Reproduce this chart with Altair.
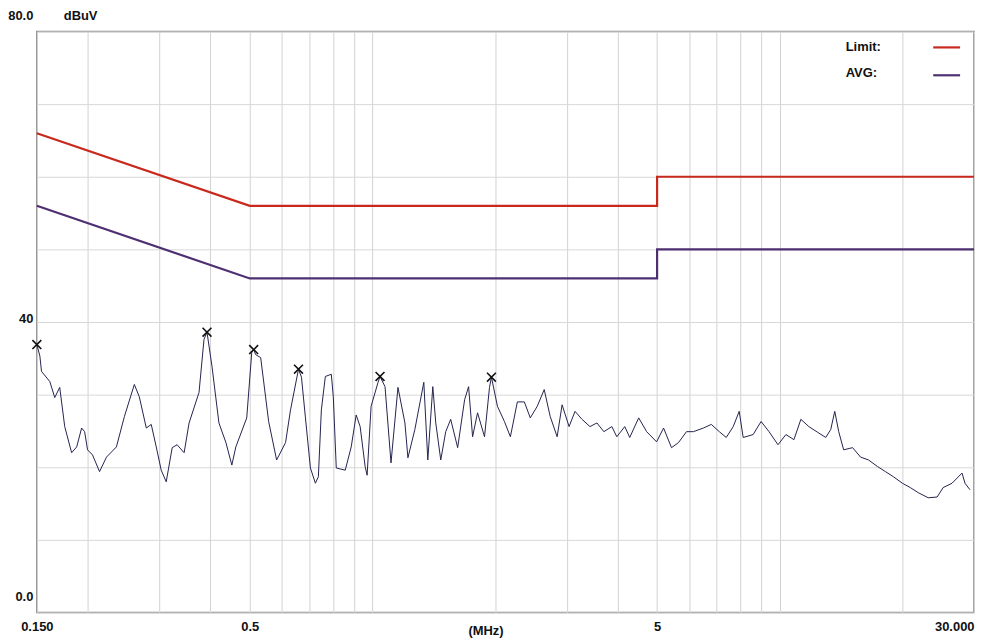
import altair as alt
import pandas as pd

# ---------------- data ----------------
trace_freq = [0.150, 0.1526, 0.1540, 0.1614, 0.1660, 0.1707, 0.1756, 0.1826, 0.1879, 0.1932,
              0.1965, 0.1998, 0.2055, 0.2138, 0.2224, 0.2287, 0.2352, 0.2461, 0.2603, 0.2677,
              0.2785, 0.2864, 0.2946, 0.3030, 0.3117, 0.3224, 0.3315, 0.3449, 0.3547, 0.3752,
              0.3859, 0.3925, 0.4037, 0.4199, 0.4368, 0.4517, 0.4620, 0.4914, 0.5055, 0.511,
              0.5169, 0.5317, 0.5562, 0.5818, 0.6120, 0.6294, 0.6584, 0.6696, 0.6848, 0.7043,
              0.7244, 0.7367, 0.7493, 0.7663, 0.7926, 0.8016, 0.8152, 0.8576, 0.8870, 0.9123,
              0.9330, 0.9597, 0.9705, 0.9926, 1.0324, 1.044, 1.0739, 1.1108, 1.1554, 1.2018,
              1.2223, 1.2713, 1.3373, 1.3677, 1.4068, 1.4307, 1.4716, 1.5136, 1.5567, 1.6193,
              1.6842, 1.7226, 1.7618, 1.8120, 1.8848, 1.9385, 1.960, 2.0277, 2.1092, 2.1816,
              2.2692, 2.3603, 2.4413, 2.5394, 2.6412, 2.7318, 2.8415, 2.9225, 3.0398, 3.1442,
              3.2705, 3.4209, 3.5583, 3.7008, 3.8712, 3.9816, 4.1649, 4.2837, 4.5062, 4.7135,
              4.9863, 5.1866, 5.4252, 5.6439, 5.9037, 6.1406, 6.4955, 6.7946, 7.1072, 7.3926,
              7.6896, 7.9536, 8.1347, 8.6051, 9.0011, 9.4154, 9.9044, 10.360, 10.837, 11.272,
              11.791, 12.403, 12.974, 13.345, 13.650, 13.961, 14.357, 15.101, 15.797, 16.524,
              17.382, 18.182, 19.018, 20.006, 20.926, 21.889, 23.154, 24.356, 25.191, 26.499,
              28.032, 28.509, 29.322]
trace_level = [36.9, 35.3, 33.2, 31.8, 29.6, 31.0, 25.6, 22.0, 22.8, 25.4,
               24.9, 22.4, 21.7, 19.4, 21.4, 22.1, 22.8, 27.0, 31.4, 29.7,
               25.4, 25.9, 22.8, 19.6, 18.0, 22.7, 23.1, 22.0, 26.1, 30.3,
               37.6, 38.6, 33.9, 26.1, 23.4, 20.3, 22.8, 26.8, 35.8, 36.2,
               35.5, 35.1, 26.3, 21.0, 23.4, 27.9, 33.5, 32.4, 26.8, 19.9,
               17.8, 18.7, 27.9, 32.5, 32.8, 29.7, 19.9, 19.6, 22.8, 27.2,
               25.6, 20.1, 18.9, 28.4, 31.7, 32.5, 31.1, 20.6, 31.0, 26.1,
               21.3, 25.2, 31.7, 21.0, 31.1, 26.1, 21.0, 24.9, 26.6, 22.7,
               29.3, 31.1, 24.2, 27.5, 24.2, 31.0, 32.4, 28.4, 26.3, 24.2,
               29.0, 29.0, 26.8, 28.4, 30.7, 27.0, 24.2, 28.6, 25.6, 27.7,
               26.6, 25.6, 26.1, 24.9, 25.6, 24.2, 25.6, 24.1, 26.8, 24.9,
               23.5, 25.4, 22.7, 23.4, 24.9, 24.9, 25.4, 25.9, 24.9, 24.1,
               25.6, 27.7, 24.1, 24.5, 26.3, 24.9, 23.1, 24.5, 23.8, 26.6,
               25.6, 24.8, 24.1, 25.2, 27.7, 24.9, 22.4, 22.7, 21.4, 21.0,
               20.1, 19.4, 18.7, 17.8, 17.2, 16.5, 15.8, 15.9, 17.2, 17.8,
               19.2, 17.8, 16.9]

peak_freq = [0.150, 0.3925, 0.511, 0.6584, 1.044, 1.960]
peak_level = [36.9, 38.6, 36.2, 33.5, 32.5, 32.4]

limit_freq = [0.15, 0.5, 5.0, 5.0, 30.0]
qp_limit = [66, 56, 56, 60, 60]
avg_limit = [56, 46, 46, 50, 50]

series_names = ["Limit:", "AVG:"]
series_colors = ["#c9281d", "#4e2f72"]

x_grid = [0.15, 0.2, 0.3, 0.4, 0.5, 0.6, 0.7, 0.8, 0.9, 1, 2, 3, 4, 5, 6, 7, 8, 9, 10, 20, 30]
y_grid = [0, 10, 20, 30, 40, 50, 60, 70, 80]

# ---------------- tables ----------------
limits = pd.DataFrame({
    "freq": limit_freq * 2,
    "level": qp_limit + avg_limit,
    "series": [series_names[0]] * 5 + [series_names[1]] * 5,
    "order": list(range(5)) * 2,
})
trace = pd.DataFrame({"freq": trace_freq, "level": trace_level, "order": range(len(trace_freq))})
peaks = pd.DataFrame({"freq": peak_freq, "level": peak_level})

FONT = "Liberation Sans"
FS = 13
TXT = "#111111"

xscale = alt.Scale(type="log", domain=[0.15, 30], nice=False)
yscale = alt.Scale(domain=[0, 80], nice=False)

x_label_expr = ("datum.value == 0.15 ? '0.150' : datum.value == 0.5 ? '0.5' : "
                "datum.value == 5 ? '5' : datum.value == 30 ? '30.000' : ''")
y_label_expr = ("datum.value == 80 ? '80.0' : datum.value == 40 ? '40' : "
                "datum.value == 0 ? '0.0' : ''")

x_axis = alt.Axis(values=x_grid, labelExpr=x_label_expr, grid=True, gridColor="#d2d2d2",
                  gridWidth=1, ticks=False, tickSize=0, domain=False, labelFlush=False,
                  labelOverlap=False, labelBaseline="middle", labelPadding=14,
                  labelAlign={"condition": {"test": "datum.value >= 30", "value": "right"},
                              "value": "center"},
                  labelFont=FONT, labelFontSize=FS, labelFontWeight="bold", labelColor=TXT,
                  title="(MHz)", titleFont=FONT, titleFontSize=FS, titleFontWeight="bold",
                  titleColor=TXT, titleX=451, titleY=18, titleBaseline="middle",
                  titleAlign="center")
y_axis = alt.Axis(values=y_grid, labelExpr=y_label_expr, grid=True, gridColor="#d8d8d8",
                  gridWidth=1, ticks=False, tickSize=0, domain=False, labelOverlap=False,
                  labelPadding=4, labelBaseline="middle",
                  labelOffset={"condition": {"test": "datum.value == 40", "value": -4},
                               "value": -16},
                  labelFont=FONT, labelFontSize=FS, labelFontWeight="bold", labelColor=TXT,
                  title=None)

color_scale = alt.Scale(domain=series_names, range=series_colors)

limit_lines = alt.Chart(limits).mark_line(strokeWidth=2.2).encode(
    x=alt.X("freq:Q", scale=xscale, axis=x_axis),
    y=alt.Y("level:Q", scale=yscale, axis=y_axis),
    color=alt.Color("series:N", scale=color_scale, legend=None),
    detail="series:N",
    order="order:Q",
)

trace_line = alt.Chart(trace).mark_line(strokeWidth=1, color="#23234f").encode(
    x=alt.X("freq:Q", scale=xscale),
    y=alt.Y("level:Q", scale=yscale),
    order="order:Q",
)

peak_marks = alt.Chart(peaks).mark_point(
    shape="M-1,-1L1,1M-1,1L1,-1", filled=False, size=80, strokeWidth=1.6, color=TXT, opacity=1
).encode(
    x=alt.X("freq:Q", scale=xscale),
    y=alt.Y("level:Q", scale=yscale),
)

# manual legend (labels left, line samples right), positioned in the top-right corner
def legend_entry(name, color, y_text, y_line):
    d = pd.DataFrame({"series": [name]})
    txt = alt.Chart(d).mark_text(
        align="left", baseline="middle", font=FONT, fontSize=FS, fontWeight="bold", color=TXT
    ).encode(x=alt.value(813), y=alt.value(y_text), text="series:N")
    line = alt.Chart(d).mark_rule(strokeWidth=2.2, color=color).encode(
        x=alt.value(901), x2=alt.value(928), y=alt.value(y_line)
    )
    return [line, txt]

legend_layers = legend_entry(series_names[0], series_colors[0], 16, 16) + \
    legend_entry(series_names[1], series_colors[1], 42, 44)

unit_text = alt.Chart(pd.DataFrame({"t": ["dBuV"]})).mark_text(
    align="center", baseline="middle", font=FONT, fontSize=FS, fontWeight="bold", color=TXT
).encode(x=alt.value(44), y=alt.value(-16), text="t:N")

chart = alt.layer(limit_lines, trace_line, peak_marks, *legend_layers, unit_text).properties(
    width=942, height=584,
    padding={"left": 29, "top": 22, "right": 4, "bottom": 24},
    autosize="none",
    background="white",
).configure_view(stroke="#8a8a8a", strokeWidth=1.6)

chart.save("out.html", embed_options={"renderer": "svg", "actions": False})
